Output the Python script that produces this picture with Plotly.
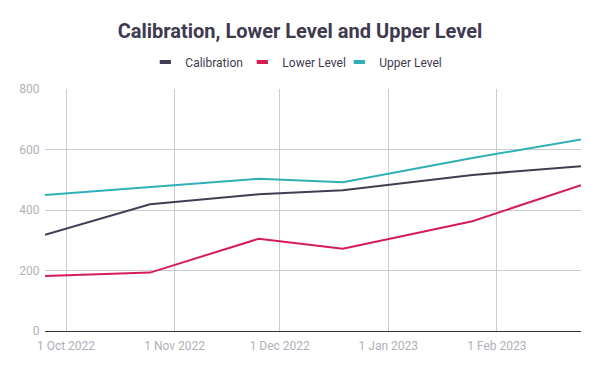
import plotly.graph_objects as go

dates = ["2022-09-25", "2022-10-25", "2022-11-25", "2022-12-19", "2023-01-25", "2023-02-25"]
calibration = [318, 419, 452, 465, 516, 545]
lower_level = [182, 193, 305, 272, 363, 482]
upper_level = [450, 476, 503, 492, 572, 633]

series_names = ["Calibration", "Lower Level", "Upper Level"]
series_colors = ["#433d54", "#d41c55", "#2fb0b7"]

x_tickvals = ["2022-10-01", "2022-11-01", "2022-12-01", "2023-01-01", "2023-02-01"]
x_ticktext = ["1 Oct 2022", "1 Nov 2022", "1 Dec 2022", "1 Jan 2023", "1 Feb 2023"]
y_tickvals = [0, 200, 400, 600, 800]

W, H = 592, 363  # page body has an 8px margin

fig = go.Figure()
for name, vals, col in zip(series_names, [calibration, lower_level, upper_level], series_colors):
    fig.add_trace(go.Scatter(x=dates, y=vals, mode="lines", name=name,
                             line=dict(color=col, width=2), showlegend=False,
                             legendgroup=name))
    fig.add_trace(go.Scatter(x=[None], y=[None], mode="markers", name=name,
                             marker=dict(symbol="line-ew", size=8,
                                         line=dict(color=col, width=4)),
                             legendgroup=name, showlegend=True))
# invisible spacer entry so the last legend label is not clipped
fig.add_trace(go.Scatter(x=[None], y=[None], mode="markers", name=" ",
                         marker=dict(color="rgba(0,0,0,0)", size=1,
                                     line=dict(width=0, color="rgba(0,0,0,0)")),
                         showlegend=True, hoverinfo="skip"))

fig.update_layout(
    width=W, height=H,
    margin=dict(l=37, r=19, t=81, b=40),
    paper_bgcolor="white", plot_bgcolor="white",
    font=dict(family="Roboto", size=12, color="#3f3a4f"),
    title=dict(text="<b>Calibration, Lower Level and Upper Level</b>",
               x=292 / W, xanchor="center", y=1 - 22.5 / H, yanchor="middle",
               font=dict(family="Roboto", size=20, color="#3f3a4f")),
    legend=dict(orientation="h", x=0.1872, xanchor="left", y=1.1116, yanchor="middle",
                font=dict(family="Roboto", size=12, color="#3f3a4f"),
                itemwidth=30, traceorder="normal",
                entrywidth=52, entrywidthmode="pixels"),
    xaxis=dict(type="date", range=[dates[0], dates[-1]],
               tickvals=x_tickvals, ticktext=x_ticktext,
               showgrid=True, gridcolor="#cccccc", gridwidth=1,
               showline=True, linecolor="#333333", linewidth=1,
               ticks="outside", ticklen=4, tickcolor="rgba(0,0,0,0)",
               tickfont=dict(color="#b0b0b8", size=12), zeroline=False),
    yaxis=dict(range=[0, 800], tickvals=y_tickvals,
               showgrid=True, gridcolor="#cccccc", gridwidth=1,
               showline=False, zeroline=False,
               ticks="outside", ticklen=2, tickcolor="rgba(0,0,0,0)",
               tickfont=dict(color="#b0b0b8", size=12)),
)

fig.write_html("out.html")
